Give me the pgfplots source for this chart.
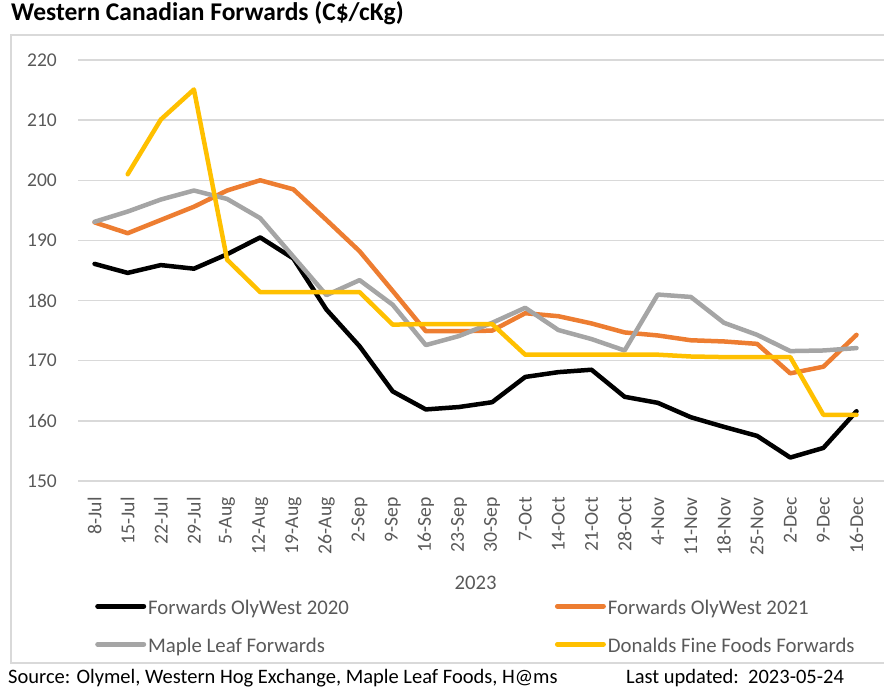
\documentclass[border=0pt]{standalone}
\usepackage{pgfplots}
\pgfplotsset{compat=1.18}
\usepackage{pgfplotstable}
\usepackage{fontspec}
\setmainfont{Carlito}

\definecolor{olyblack}{HTML}{000000}
\definecolor{olyorange}{HTML}{ED7D31}
\definecolor{mlgray}{HTML}{A5A5A5}
\definecolor{dffyellow}{HTML}{FFC000}
\definecolor{gridgray}{HTML}{D9D9D9}
\definecolor{labelgray}{HTML}{595959}

% weekly forwards, C$/cKg
\pgfplotstableread{
idx black  orange gray   yellow
0   186.1  193.0  193.1  nan
1   184.6  191.2  194.8  201.0
2   185.9  193.4  196.8  210.1
3   185.3  195.6  198.3  215.1
4   187.7  198.3  196.9  186.8
5   190.5  200.0  193.7  181.4
6   187.0  198.5  187.3  181.4
7   178.5  193.4  180.9  181.4
8   172.4  188.2  183.4  181.4
9   164.9  181.6  179.3  176.0
10  161.9  174.9  172.6  176.1
11  162.3  174.9  174.1  176.1
12  163.1  175.0  176.3  176.1
13  167.3  177.9  178.8  171.0
14  168.1  177.4  175.1  171.0
15  168.5  176.2  173.6  171.0
16  164.0  174.7  171.7  171.0
17  163.0  174.2  181.0  171.0
18  160.6  173.4  180.6  170.7
19  159.0  173.2  176.3  170.6
20  157.5  172.8  174.3  170.6
21  153.9  167.9  171.6  170.6
22  155.5  169.0  171.7  161.0
23  161.6  174.3  172.1  161.0
}\fwd

\begin{document}
\begin{tikzpicture}[x=1pt,y=1pt]
\path[use as bounding box] (0,0) rectangle (884,696);
\draw[gridgray, line width=1.3pt] (11,33) rectangle (900,661);

\node[anchor=base west, inner sep=0pt, font=\fontsize{25.5}{30}\selectfont\bfseries]
  at (11,675) {Western Canadian Forwards (C\$/cKg)};
\node[anchor=base west, inner sep=0pt, font=\fontsize{20.5}{24}\selectfont]
  at (8,12) {Source: Olymel, Western Hog Exchange, Maple Leaf Foods, H@ms};
\node[anchor=base west, inner sep=0pt, font=\fontsize{20.5}{24}\selectfont]
  at (626,12) {Last updated:\ \ 2023-05-24};

\begin{axis}[
  at={(78pt,215pt)}, anchor=south west,
  scale only axis, width=806pt, height=421pt,
  xmin=-0.5, xmax=23.83, ymin=150, ymax=220,
  axis line style={draw=none},
  ymajorgrids, grid style={gridgray, line width=1.5pt},
  ytick={150,160,...,220},
  xtick={0,...,23},
  xticklabels={8-Jul,15-Jul,22-Jul,29-Jul,5-Aug,12-Aug,19-Aug,26-Aug,2-Sep,9-Sep,16-Sep,23-Sep,30-Sep,7-Oct,14-Oct,21-Oct,28-Oct,4-Nov,11-Nov,18-Nov,25-Nov,2-Dec,9-Dec,16-Dec},
  tick style={draw=none},
  /pgf/number format/assume math mode=true,
  yticklabel style={anchor=east, inner sep=0pt, text=labelgray, font=\fontsize{19.5}{23}\selectfont},
  yticklabel shift=21pt,
  xticklabel style={rotate=90, anchor=east, inner sep=0pt, text=labelgray, font=\fontsize{19.7}{23}\selectfont},
  xticklabel shift=16pt,
  xlabel={2023},
  xlabel style={at={(axis description cs:0.4932,-0.2423)}, anchor=center, inner sep=0pt, text=labelgray, font=\fontsize{20.7}{24}\selectfont},
  legend columns=2,
  legend cell align=left,
  legend image code/.code={\draw[#1, line width=5pt, line cap=round] (0pt,0.32em) -- (46pt,0.32em);},
  legend style={at={(axis description cs:0.0211,-0.2820)}, anchor=north west,
    draw=none, fill=none, inner sep=0pt, row sep=19pt,
    nodes={inner sep=0pt, text height=15pt, text depth=4pt, text=labelgray, font=\fontsize{20.8}{24}\selectfont},
    /tikz/every odd column/.append style={column sep=2pt},
    /tikz/every even column/.append style={column sep=206pt}},
  every axis plot/.append style={line width=4.5pt, line join=round, line cap=round},
]
\addplot[olyblack]  table[x=idx, y=black]  {\fwd};
\addplot[olyorange] table[x=idx, y=orange] {\fwd};
\addplot[mlgray]    table[x=idx, y=gray]   {\fwd};
\addplot[dffyellow] table[x=idx, y=yellow] {\fwd};
\legend{Forwards OlyWest 2020, Forwards OlyWest 2021, Maple Leaf Forwards, Donalds Fine Foods Forwards}
\draw[gridgray, line width=1.3pt] (axis cs:-0.5,150) -- ++(0pt,-116pt);
\draw[gridgray, line width=1.3pt] (axis cs:23.5,150) -- ++(0pt,-116pt);
\end{axis}
\end{tikzpicture}
\end{document}
